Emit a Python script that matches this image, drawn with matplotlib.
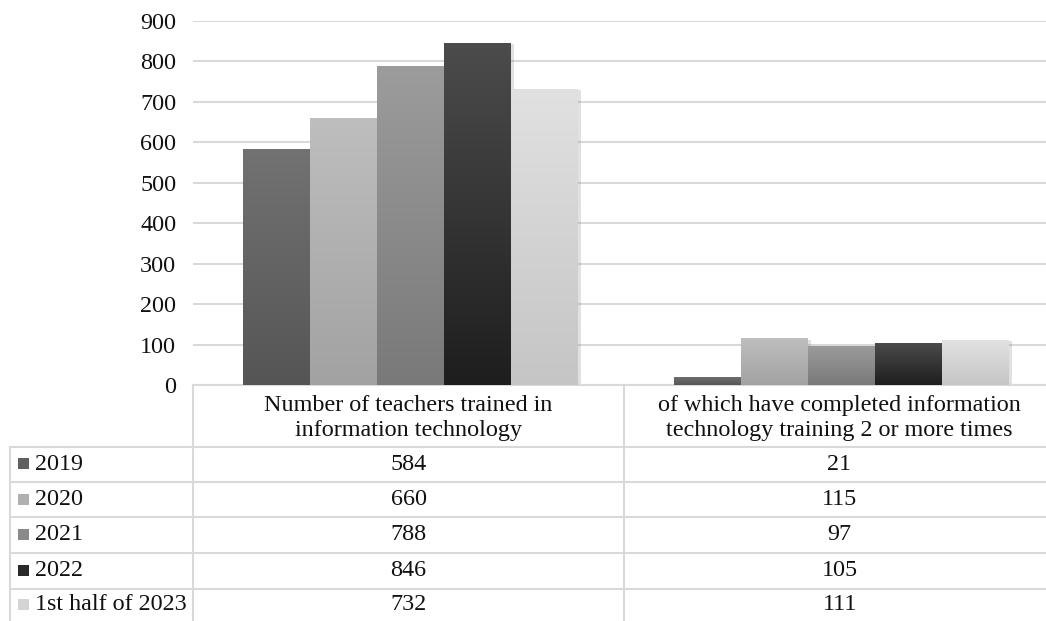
import matplotlib
matplotlib.use("Agg")
import matplotlib.pyplot as plt
import numpy as np
from matplotlib.colors import LinearSegmentedColormap
import matplotlib.patheffects as pe

plt.rcParams['font.family'] = ['Liberation Serif', 'DejaVu Serif']

# ---- data ----
series = ["2019", "2020", "2021", "2022", "1st half of 2023"]
categories = ["Number of teachers trained in\ninformation technology",
              "of which have completed information\ntechnology training 2 or more times"]
trained_total = [584, 660, 788, 846, 732]
trained_twice = [21, 115, 97, 105, 111]
yticks = [0, 100, 200, 300, 400, 500, 600, 700, 800, 900]

# colours (top, bottom) of gradient per series
grad_top = ["#727272", "#bebebe", "#9c9c9c", "#4c4c4c", "#e1e1e1"]
grad_bot = ["#555555", "#a2a2a2", "#797979", "#1e1e1e", "#c5c5c5"]
legend_col = ["#606060", "#b0b0b0", "#8a8a8a", "#2a2a2a", "#d4d4d4"]

W, H = 1046, 621
fig = plt.figure(figsize=(W / 100, H / 100), dpi=100)

grid_c = "#d9d9d9"
px_left, px_right, px_top, px_bottom = 193, 1055, 21, 385
ax = fig.add_axes([px_left / W, 1 - px_bottom / H,
                   (px_right - px_left) / W, (px_bottom - px_top) / H])
ax.set_xlim(0, 2)
ax.set_ylim(0, 900)

group_w = 0.777
bw = group_w / len(series)
vals_by_series = list(zip(trained_total, trained_twice))
for s_i, name in enumerate(series):
    for c_i in range(len(categories)):
        x0 = c_i + 0.505 - group_w / 2 + s_i * bw
        v = vals_by_series[s_i][c_i]
        bar = ax.bar(x0, v, width=bw, align='edge', color=legend_col[s_i],
                     zorder=2, linewidth=0)[0]
        bar.set_path_effects([pe.SimplePatchShadow(offset=(2, -1),
                                                   shadow_rgbFace='#888888', alpha=0.25),
                              pe.Normal()])
        cmap = LinearSegmentedColormap.from_list(
            "g%d" % s_i, [grad_bot[s_i], grad_top[s_i]])
        grad = np.linspace(0, 1, 256).reshape(-1, 1)
        im = ax.imshow(grad, extent=[x0, x0 + bw, 0, v], origin='lower',
                       cmap=cmap, aspect='auto', zorder=3, interpolation='bilinear')
        im.set_clip_path(bar)

ax.set_xlim(0, 2)
ax.set_ylim(0, 900)
ax.set_yticks(yticks)
ax.set_yticklabels([str(t) for t in yticks])
ax.set_xticks([])
ax.yaxis.grid(True, color=grid_c, linewidth=1.5, zorder=0)
ax.set_axisbelow(True)
for sp in ["left", "right", "top"]:
    ax.spines[sp].set_visible(False)
ax.spines["bottom"].set_color(grid_c)
ax.spines["bottom"].set_linewidth(1.5)
fs = 17.4
ax.tick_params(axis='y', length=0, pad=12, labelsize=fs, labelcolor="#111111")

# ---- data table ----
tax = fig.add_axes([0, 0, 1, 1], zorder=-1)
tax.set_xlim(0, W)
tax.set_ylim(H, 0)
tax.axis('off')

row_lines = [447, 482, 517, 553, 589]
col_left, col_mid, col_split = 10, 193, 624
lw = 1.5
for y in row_lines:
    tax.plot([col_left, W], [y, y], color=grid_c, lw=lw, solid_capstyle='butt')
tax.plot([col_left, col_left], [447, H], color=grid_c, lw=lw)
tax.plot([col_mid, col_mid], [385, H], color=grid_c, lw=lw)
tax.plot([col_split, col_split], [385, H], color=grid_c, lw=lw)

col_centres = [(col_mid + col_split) / 2, (col_split + px_right) / 2]
for c_i, cat in enumerate(categories):
    tax.text(col_centres[c_i], 418, cat, ha='center', va='center',
             fontsize=fs, linespacing=1.22, color="#111111")

row_centres = [464, 499.5, 535, 571, 605]
for r_i, name in enumerate(series):
    yc = row_centres[r_i]
    tax.add_patch(plt.Rectangle((18, yc - 6), 11, 11, color=legend_col[r_i], lw=0))
    tax.text(35, yc, name, ha='left', va='center', fontsize=fs, color="#111111")
    tax.text(col_centres[0], yc, str(trained_total[r_i]), ha='center', va='center',
             fontsize=fs, color="#111111")
    tax.text(col_centres[1], yc, str(trained_twice[r_i]), ha='center', va='center',
             fontsize=fs, color="#111111")

fig.savefig("out.png", dpi=100)
